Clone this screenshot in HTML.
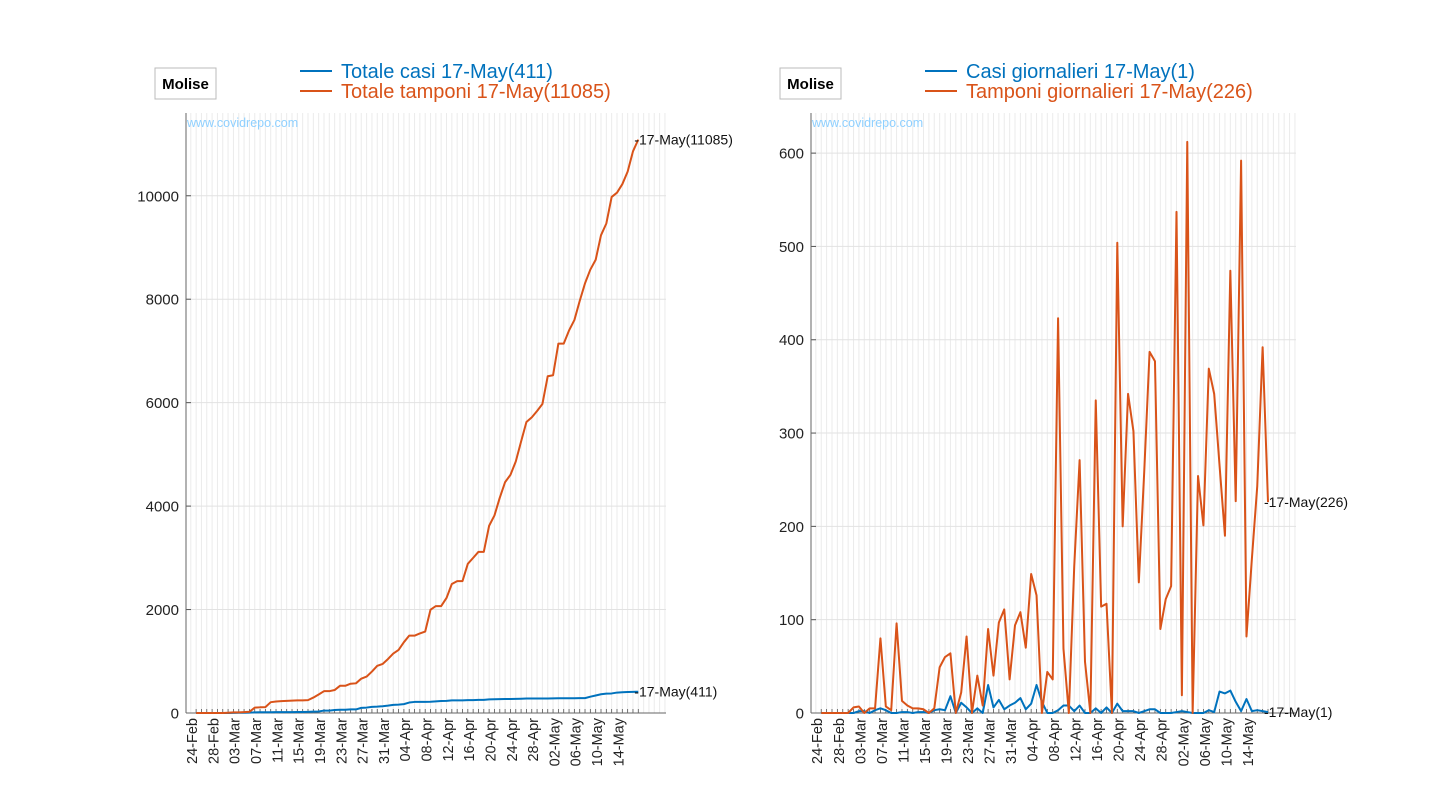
<!DOCTYPE html>
<html><head><meta charset="utf-8"><style>
body{margin:0;background:#fff;width:1430px;height:800px;overflow:hidden;font-family:"Liberation Sans",sans-serif}
svg{position:absolute;left:0;top:0}
</style></head><body>
<svg id="chart" width="1430" height="800"></svg>
<script>
const dates=[];
const monthNames=["Feb","Mar","Apr","May"];
const monthLens=[29,31,30,31];
(function(){let m=0,d=24;for(let i=0;i<84;i++){dates.push(String(d).padStart(2,'0')+'-'+monthNames[m]);d++;if(d>monthLens[m]){d=1;m++;}}})();
const totalCases=[0,0,0,0,0,0,0,2,4,4,7,12,15,15,15,16,17,17,18,19,19,22,26,29,47,47,58,64,64,69,69,99,105,119,123,131,142,158,162,172,202,214,214,214,217,225,233,235,243,243,243,248,248,254,254,264,266,268,270,270,272,276,280,280,280,280,281,283,284,284,284,284,287,288,315,338,362,375,378,395,400,405,409,411];
const totalTests=[0,0,0,0,0,0,6,13,13,18,23,103,110,113,209,222,230,235,240,244,244,249,298,358,422,422,444,526,526,566,574,664,704,801,912,948,1042,1150,1220,1369,1495,1495,1539,1575,1998,2067,2067,2224,2495,2550,2550,2885,2999,3116,3116,3620,3820,4162,4464,4604,4862,5249,5626,5716,5838,5974,6511,6530,7142,7142,7396,7597,7966,8308,8573,8763,9237,9464,9977,10059,10224,10467,10859,11085];
const dailyCases=[0,0,0,0,0,0,0,2,2,0,3,5,3,0,0,1,1,0,1,1,0,3,4,3,18,0,11,6,0,5,0,30,6,14,4,8,11,16,4,10,30,12,0,0,3,8,8,2,8,0,0,5,0,6,0,10,2,2,2,0,2,4,4,0,0,0,1,2,1,0,0,0,3,1,23,21,24,12,2,15,2,3,2,1];
const dailyTests=[0,0,0,0,0,0,6,7,0,5,5,80,7,3,96,13,8,5,5,4,0,5,49,60,64,0,22,82,0,40,8,90,40,97,111,36,94,108,70,149,126,0,44,36,423,69,0,157,271,55,0,335,114,117,0,504,200,342,302,140,258,387,377,90,122,136,537,19,612,0,254,201,369,342,265,190,474,227,592,82,165,243,392,226];
const leftTicks=[0,2000,4000,6000,8000,10000];
const rightTicks=[0,100,200,300,400,500,600];
const NS="http://www.w3.org/2000/svg";
const svg=document.getElementById('chart');
function el(tag,attrs,parent,text){const e=document.createElementNS(NS,tag);for(const k in attrs)e.setAttribute(k,attrs[k]);if(text!==undefined)e.textContent=text;(parent||svg).appendChild(e);return e;}
const BLUE="#0072BD",ORANGE="#D95319";
function drawPanel(o){
  const g=el('g',{});
  
  
  const L=o.left,R=o.right,T=113,B=713,xmin=-1.9,xmax=88.2;
  const xs=i=>L+(i-xmin)/(xmax-xmin)*(R-L);
  const ys=v=>B-v/o.ymax*(B-T);
  for(let i=-1;i<=88;i++){const l=el('line',{x1:xs(i),x2:xs(i),y1:T,y2:B,stroke:'#ebebeb','stroke-width':1},g);
    
    if(i>=0&&i<84){el('line',{x1:xs(i),x2:xs(i),y1:B,y2:B-4,stroke:'#555','stroke-width':0.8},g);}}
  o.ticks.forEach(t=>{const y=ys(t);
    const gl=el('line',{x1:L,x2:R,y1:y,y2:y,stroke:'#e2e2e2','stroke-width':1},g);
    
    el('line',{x1:L,x2:L+5,y1:y,y2:y,stroke:'#555'},g);
    const tx=el('text',{x:L-7,y:y+5.5,'text-anchor':'end','font-size':15,fill:'#222'},g,String(t));
    });
  el('line',{x1:L,x2:L,y1:T,y2:B,stroke:'#666'},g);
  el('line',{x1:L,x2:R,y1:B,y2:B,stroke:'#666'},g);
  for(let i=0;i<84;i+=4){const x=xs(i);
    const tx=el('text',{x:0,y:0,transform:`translate(${x+1},${B+5}) rotate(-90)`,'text-anchor':'end','font-size':14.5,fill:'#222'},g,dates[i]);
    }
  const wm=el('text',{x:L+1,y:127,'font-size':12.5,fill:'#8fd0ff'},g,'www.covidrepo.com');
  
  [[o.s1,BLUE,'blue-series'],[o.s2,ORANGE,'orange-series']].forEach(([s,c,n])=>{
    const p=el('polyline',{points:s.map((v,i)=>xs(i)+','+ys(v)).join(' '),fill:'none',stroke:c,'stroke-width':2,'stroke-linejoin':'round'},g);
    
    const last=s.length-1;
    const t=el('text',{x:xs(last)-4,y:ys(s[last])+5,'font-size':14,fill:'#111'},g,'-17-May('+s[last]+')');
    });
  const bx=o.left-31;
  const box=el('rect',{x:bx,y:68,width:61,height:31,fill:'#fff',stroke:'#bbb'},g);
  
  const bt=el('text',{x:bx+30.5,y:89,'text-anchor':'middle','font-size':15,'font-weight':'bold',fill:'#000'},g,'Molise');
  
  const lx=o.legendX;
  [[o.l1,BLUE,71],[o.l2,ORANGE,91]].forEach(([txt,c,y])=>{
    el('line',{x1:lx,x2:lx+32,y1:y,y2:y,stroke:c,'stroke-width':2},g);
    const t=el('text',{x:lx+41,y:y+7,'font-size':20,fill:c},g,txt);
    });
}
drawPanel({name:'left-chart',left:186,right:666,ymax:11600,ticks:leftTicks,s1:totalCases,s2:totalTests,legendX:300,
  l1:'Totale casi 17-May(411)',l2:'Totale tamponi 17-May(11085)'});
drawPanel({name:'right-chart',left:811,right:1296,ymax:643,ticks:rightTicks,s1:dailyCases,s2:dailyTests,legendX:925,
  l1:'Casi giornalieri 17-May(1)',l2:'Tamponi giornalieri 17-May(226)'});
</script>
</body></html>
